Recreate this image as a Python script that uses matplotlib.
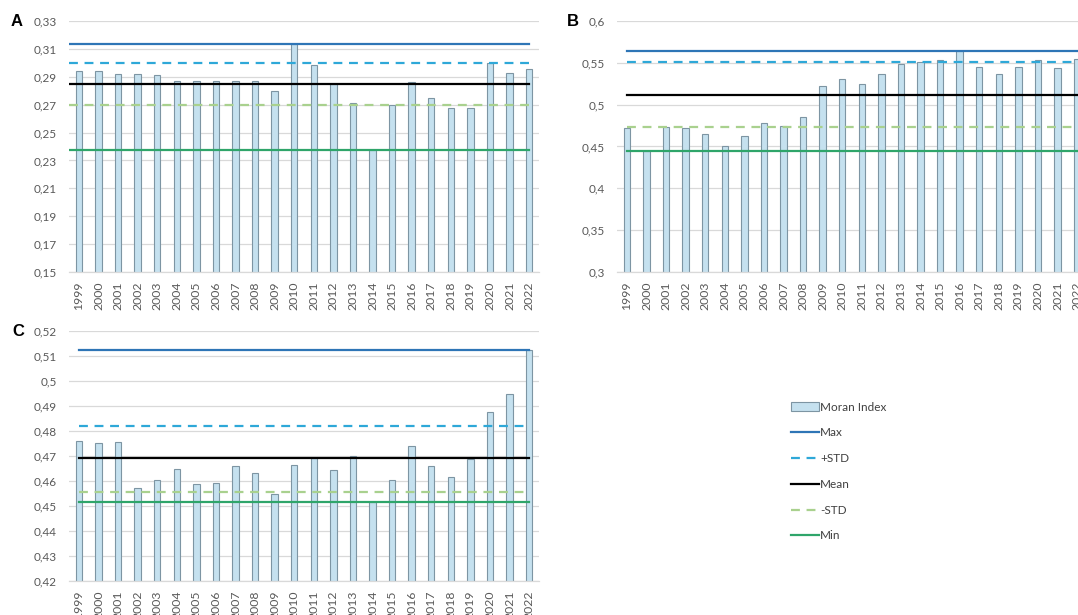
import matplotlib
matplotlib.use("Agg")
import matplotlib.pyplot as plt
from matplotlib.ticker import FixedLocator, FuncFormatter

years = [str(y) for y in range(1999, 2023)]

moran_a = [0.2941, 0.2941, 0.2918, 0.2918, 0.2910, 0.2870, 0.2870, 0.2870, 0.2870, 0.2870,
           0.2795, 0.3133, 0.2987, 0.2846, 0.2710, 0.2377, 0.2695, 0.2860, 0.2745, 0.2674,
           0.2674, 0.3000, 0.2925, 0.2953]
stats_a = {"Max": 0.3133, "+STD": 0.2999, "Mean": 0.2846, "-STD": 0.2697, "Min": 0.2377}

moran_b = [0.4726, 0.4443, 0.4730, 0.4718, 0.4654, 0.4503, 0.4622, 0.4778, 0.4750, 0.4849,
           0.5220, 0.5310, 0.5250, 0.5372, 0.5486, 0.5510, 0.5530, 0.5645, 0.5447, 0.5372,
           0.5447, 0.5530, 0.5435, 0.5550]
stats_b = {"Max": 0.5645, "+STD": 0.5510, "Mean": 0.5120, "-STD": 0.4734, "Min": 0.4443}

moran_c = [0.4759, 0.4751, 0.4755, 0.4572, 0.4603, 0.4648, 0.4590, 0.4594, 0.4659, 0.4631,
           0.4547, 0.4665, 0.4692, 0.4645, 0.4700, 0.4517, 0.4603, 0.4741, 0.4660, 0.4615,
           0.4687, 0.4878, 0.4950, 0.5123]
stats_c = {"Max": 0.5123, "+STD": 0.4822, "Mean": 0.4693, "-STD": 0.4557, "Min": 0.4517}

yticks_a = [0.15, 0.17, 0.19, 0.21, 0.23, 0.25, 0.27, 0.29, 0.31, 0.33]
yticks_b = [0.30, 0.35, 0.40, 0.45, 0.50, 0.55, 0.60]
yticks_c = [0.42, 0.43, 0.44, 0.45, 0.46, 0.47, 0.48, 0.49, 0.50, 0.51, 0.52]

line_styles = {
    "Max": dict(color="#2e75b6", ls="-"),
    "+STD": dict(color="#2ea8d8", ls=(0, (4, 3))),
    "Mean": dict(color="#000000", ls="-"),
    "-STD": dict(color="#a9d18e", ls=(0, (4, 3))),
    "Min": dict(color="#2fa56a", ls="-"),
}

FONT = ["Lato", "DejaVu Sans"]
plt.rcParams["font.family"] = FONT

W, H = 1078, 615
fig = plt.figure(figsize=(W / 100, H / 100), dpi=100)


def fmt(v, pos):
    return f"{round(v, 4):g}".replace(".", ",")


def panel(rect, vals, stats, yticks, letter, letter_xy, line_start):
    ax = fig.add_axes(rect)
    x = list(range(len(years)))
    bars = ax.bar(x, vals, width=0.33, color="#c5e1ef", edgecolor="#7d95a3",
                  linewidth=0.8, zorder=2, label="Moran Index")
    handles = [bars]
    for name, v in stats.items():
        st = line_styles[name]
        (ln,) = ax.plot([line_start, len(years) - 1], [v, v], color=st["color"],
                        linestyle=st["ls"], linewidth=1.6, zorder=3, label=name)
        handles.append(ln)
    ax.set_xlim(-0.5, len(years) - 0.5)
    ax.set_ylim(yticks[0], yticks[-1])
    ax.yaxis.set_major_locator(FixedLocator(yticks))
    ax.yaxis.set_major_formatter(FuncFormatter(fmt))
    ax.set_xticks(x)
    ax.set_xticklabels(years, rotation=90)
    ax.tick_params(axis="both", length=0, colors="#595959", labelsize=8.5)
    ax.tick_params(axis="x", labelsize=8.8)
    ax.tick_params(axis="y", pad=9)
    ax.tick_params(axis="x", pad=7)
    ax.grid(axis="y", color="#d9d9d9", linewidth=0.9, zorder=0)
    ax.set_axisbelow(True)
    for s in ["top", "right", "left"]:
        ax.spines[s].set_visible(False)
    ax.spines["bottom"].set_color("#d9d9d9")
    ax.spines["bottom"].set_linewidth(0.9)
    fig.text(letter_xy[0] / W, 1 - letter_xy[1] / H, letter, fontsize=12,
             fontweight="bold", family=["Liberation Sans", "DejaVu Sans"],
             ha="left", va="center")
    return ax, handles


axw = 469.6 / W
axA, handles = panel([69.2 / W, 1 - 272 / H, axw, 251 / H], moran_a, stats_a, yticks_a,
                     "A", (11, 22), -0.5)
axB, _ = panel([617.2 / W, 1 - 272 / H, axw, 251 / H], moran_b, stats_b, yticks_b,
               "B", (567, 22), 0)
axC, _ = panel([69.2 / W, 1 - 581 / H, axw, 250 / H], moran_c, stats_c, yticks_c,
               "C", (12, 332), 0)

fig.legend(handles=handles, labels=["Moran Index", "Max", "+STD", "Mean", "-STD", "Min"],
           loc="upper left", bbox_to_anchor=(780 / W, 1 - 391 / H), frameon=False,
           fontsize=8.5, labelspacing=1.25, handlelength=2.4, handletextpad=0.1,
           labelcolor="#404040")

fig.savefig("out.png", dpi=100)
